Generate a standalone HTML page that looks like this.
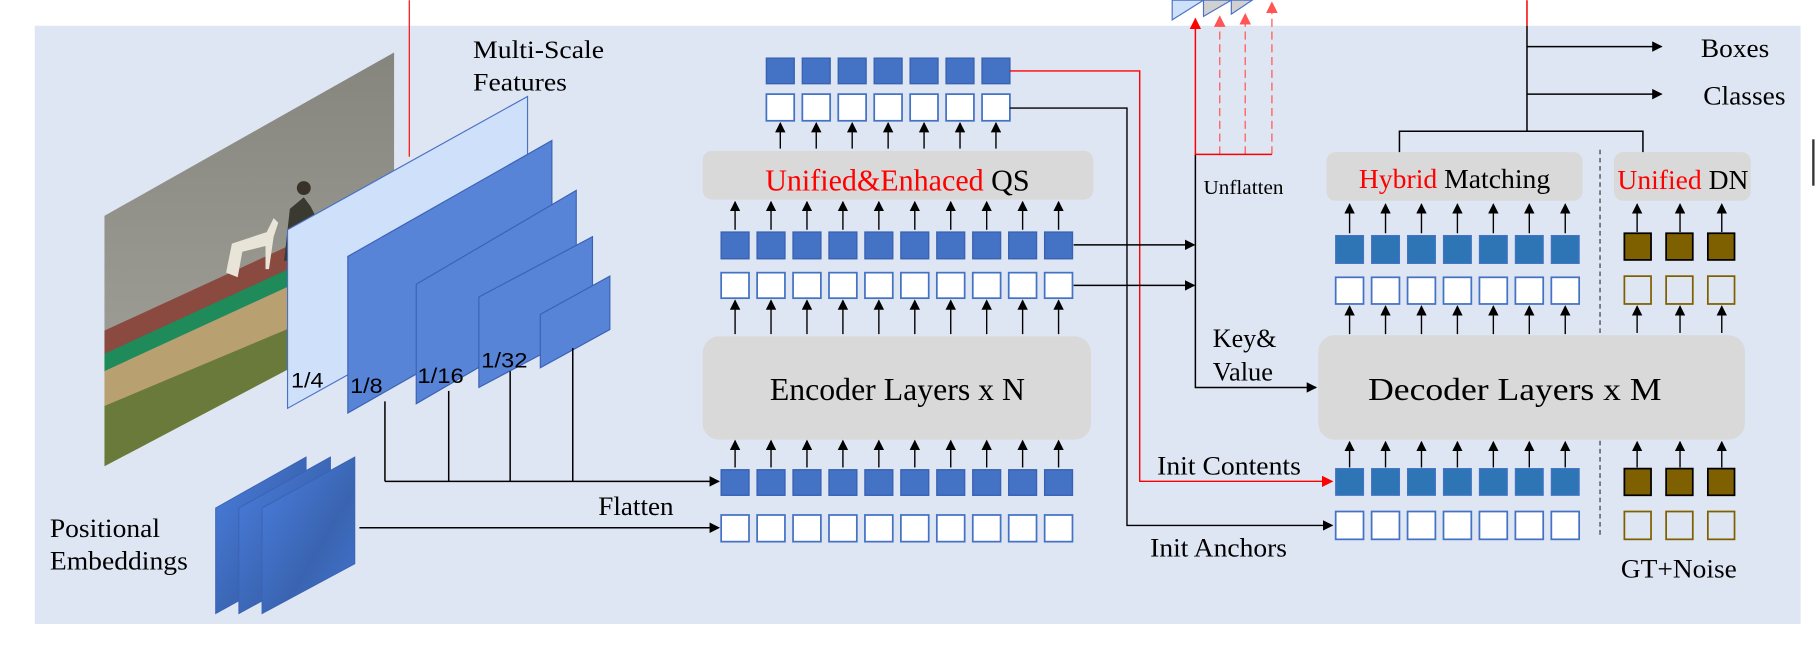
<!DOCTYPE html>
<html><head><meta charset="utf-8"><style>
html,body{margin:0;padding:0;background:#fff;width:1818px;height:652px;overflow:hidden}
svg{display:block}
text{font-family:"Liberation Serif",serif;fill:#000}
.s{font-family:"Liberation Sans",sans-serif}
</style></head><body>
<svg width="1818" height="652" viewBox="0 0 1568 562" xmlns="http://www.w3.org/2000/svg">
<defs>
<marker id="ab" markerWidth="9" markerHeight="9" refX="8" refY="4.5" orient="auto" markerUnits="userSpaceOnUse"><path d="M0,0 L9,4.5 L0,9z" fill="#000"/></marker>
<marker id="ar" markerWidth="10" markerHeight="10" refX="9" refY="5" orient="auto" markerUnits="userSpaceOnUse"><path d="M0,0 L10,5 L0,10z" fill="#f00"/></marker>
<marker id="arl" markerWidth="10" markerHeight="10" refX="9" refY="5" orient="auto" markerUnits="userSpaceOnUse"><path d="M0,0 L10,5 L0,10z" fill="#f55"/></marker>
<linearGradient id="pe" x1="0" y1="0" x2="1" y2="1"><stop offset="0" stop-color="#4a7ee0"/><stop offset="0.6" stop-color="#3a64b0"/><stop offset="1" stop-color="#4274d0"/></linearGradient>
<linearGradient id="ph" x1="0" y1="0" x2="0" y2="1"><stop offset="0" stop-color="#85857e"/><stop offset="0.5" stop-color="#96968e"/><stop offset="1" stop-color="#a4a49c"/></linearGradient>
<clipPath id="pc"><polygon points="90,186 340,45 340,270 90,402"/></clipPath>
</defs>
<rect x="30" y="22" width="1523" height="516" fill="#dfe6f3"/>
<line x1="353" y1="0" x2="353" y2="135" stroke="#f00" stroke-width="1"/>
<g clip-path="url(#pc)">
<rect x="80" y="40" width="270" height="370" fill="url(#ph)"/>
<polygon points="90,285 340,170 340,205 90,318" fill="#8a4a40"/>
<polygon points="90,305 340,190 340,205 90,320" fill="#1f8a5a"/>
<polygon points="90,320 340,205 340,300 90,420" fill="#b8a070"/>
<polygon points="90,350 340,245 340,300 90,420" fill="#6a7a3a"/>
<path d="M195,235 l5,-25 l30,-10 l6,-12 l4,4 l-4,12 l-4,28 l-3,0 l0,-20 l-20,5 l-4,22z" fill="#e8e4d8"/>
<path d="M245,225 l5,-45 l12,-10 l6,8 l10,20 l-5,20 z" fill="#3a3a30"/>
<circle cx="262" cy="162" r="6" fill="#3a3228"/>
</g>
<polygon points="248,198 455,83 455,237 248,352" fill="#cfe0fb" stroke="#4a72c4" stroke-width="1"/>
<polygon points="300,221 476,121 476,256 300,356" fill="#5884d8" stroke="#3a62b4" stroke-width="1"/>
<polygon points="359,245 497,164 497,268 359,348" fill="#5884d8" stroke="#3a62b4" stroke-width="1"/>
<polygon points="413,256 511,204 511,282 413,334" fill="#5884d8" stroke="#3a62b4" stroke-width="1"/>
<polygon points="466,271 526,238 526,284 466,317" fill="#5884d8" stroke="#3a62b4" stroke-width="1"/>
<text class="s" x="251" y="334" font-size="18" textLength="28" lengthAdjust="spacingAndGlyphs">1/4</text>
<text class="s" x="302" y="339" font-size="18" textLength="28" lengthAdjust="spacingAndGlyphs">1/8</text>
<text class="s" x="360" y="330" font-size="18" textLength="40" lengthAdjust="spacingAndGlyphs">1/16</text>
<text class="s" x="415" y="317" font-size="18" textLength="40" lengthAdjust="spacingAndGlyphs">1/32</text>
<text x="408" y="50" font-size="22" textLength="113" lengthAdjust="spacingAndGlyphs">Multi-Scale</text>
<text x="408" y="78" font-size="22" textLength="81" lengthAdjust="spacingAndGlyphs">Features</text>
<g stroke="#000" stroke-width="1.3" fill="none">
<line x1="332" y1="346" x2="332" y2="415"/><line x1="387" y1="337" x2="387" y2="415"/>
<line x1="440" y1="320" x2="440" y2="415"/><line x1="494" y1="300" x2="494" y2="415"/>
<line x1="332" y1="415" x2="620" y2="415" marker-end="url(#ab)"/>
<line x1="310" y1="455" x2="620" y2="455" marker-end="url(#ab)"/>
</g>
<text x="516" y="444" font-size="23" textLength="65" lengthAdjust="spacingAndGlyphs">Flatten</text>
<polygon points="186,438 264,394 264,486 186,529" fill="url(#pe)" stroke="#3a62b4" stroke-width="0.8"/>
<polygon points="206,438 285,394 285,486 206,529" fill="url(#pe)" stroke="#3a62b4" stroke-width="0.8"/>
<polygon points="226,438 306,394 306,486 226,529" fill="url(#pe)" stroke="#3a62b4" stroke-width="0.8"/>
<text x="43" y="463" font-size="23" textLength="95" lengthAdjust="spacingAndGlyphs">Positional</text>
<text x="43" y="491" font-size="23" textLength="119" lengthAdjust="spacingAndGlyphs">Embeddings</text>
<rect x="606" y="290" width="335" height="89" rx="14" fill="#d9d9d9"/>
<text x="664" y="345" font-size="27" textLength="220" lengthAdjust="spacingAndGlyphs">Encoder Layers x N</text>
<rect x="606" y="130" width="337" height="42" rx="8" fill="#d9d9d9"/>
<text x="660" y="164" font-size="26" textLength="228" lengthAdjust="spacingAndGlyphs"><tspan fill="#f00">Unified&amp;Enhaced</tspan> QS</text>
<g fill="#4472c4" stroke="#3a62b4" stroke-width="1.2">
<rect x="622" y="405" width="24" height="22"/><rect x="653" y="405" width="24" height="22"/><rect x="684" y="405" width="24" height="22"/><rect x="715" y="405" width="24" height="22"/><rect x="746" y="405" width="24" height="22"/><rect x="777" y="405" width="24" height="22"/><rect x="808" y="405" width="24" height="22"/><rect x="839" y="405" width="24" height="22"/><rect x="870" y="405" width="24" height="22"/><rect x="901" y="405" width="24" height="22"/>
<rect x="622" y="200" width="24" height="23"/><rect x="653" y="200" width="24" height="23"/><rect x="684" y="200" width="24" height="23"/><rect x="715" y="200" width="24" height="23"/><rect x="746" y="200" width="24" height="23"/><rect x="777" y="200" width="24" height="23"/><rect x="808" y="200" width="24" height="23"/><rect x="839" y="200" width="24" height="23"/><rect x="870" y="200" width="24" height="23"/><rect x="901" y="200" width="24" height="23"/>
<rect x="661" y="50" width="24" height="22"/><rect x="692" y="50" width="24" height="22"/><rect x="723" y="50" width="24" height="22"/><rect x="754" y="50" width="24" height="22"/><rect x="785" y="50" width="24" height="22"/><rect x="816" y="50" width="24" height="22"/><rect x="847" y="50" width="24" height="22"/>
</g>
<g fill="#fff" stroke="#4472c4" stroke-width="1.5">
<rect x="622" y="444" width="24" height="23"/><rect x="653" y="444" width="24" height="23"/><rect x="684" y="444" width="24" height="23"/><rect x="715" y="444" width="24" height="23"/><rect x="746" y="444" width="24" height="23"/><rect x="777" y="444" width="24" height="23"/><rect x="808" y="444" width="24" height="23"/><rect x="839" y="444" width="24" height="23"/><rect x="870" y="444" width="24" height="23"/><rect x="901" y="444" width="24" height="23"/>
<rect x="622" y="235" width="24" height="22"/><rect x="653" y="235" width="24" height="22"/><rect x="684" y="235" width="24" height="22"/><rect x="715" y="235" width="24" height="22"/><rect x="746" y="235" width="24" height="22"/><rect x="777" y="235" width="24" height="22"/><rect x="808" y="235" width="24" height="22"/><rect x="839" y="235" width="24" height="22"/><rect x="870" y="235" width="24" height="22"/><rect x="901" y="235" width="24" height="22"/>
<rect x="661" y="81" width="24" height="23"/><rect x="692" y="81" width="24" height="23"/><rect x="723" y="81" width="24" height="23"/><rect x="754" y="81" width="24" height="23"/><rect x="785" y="81" width="24" height="23"/><rect x="816" y="81" width="24" height="23"/><rect x="847" y="81" width="24" height="23"/>
</g>
<g stroke="#000" stroke-width="1.2" marker-end="url(#ab)">
<line x1="634" y1="403" x2="634" y2="380"/><line x1="665" y1="403" x2="665" y2="380"/><line x1="696" y1="403" x2="696" y2="380"/><line x1="727" y1="403" x2="727" y2="380"/><line x1="758" y1="403" x2="758" y2="380"/><line x1="789" y1="403" x2="789" y2="380"/><line x1="820" y1="403" x2="820" y2="380"/><line x1="851" y1="403" x2="851" y2="380"/><line x1="882" y1="403" x2="882" y2="380"/><line x1="913" y1="403" x2="913" y2="380"/>
<line x1="634" y1="288" x2="634" y2="259"/><line x1="665" y1="288" x2="665" y2="259"/><line x1="696" y1="288" x2="696" y2="259"/><line x1="727" y1="288" x2="727" y2="259"/><line x1="758" y1="288" x2="758" y2="259"/><line x1="789" y1="288" x2="789" y2="259"/><line x1="820" y1="288" x2="820" y2="259"/><line x1="851" y1="288" x2="851" y2="259"/><line x1="882" y1="288" x2="882" y2="259"/><line x1="913" y1="288" x2="913" y2="259"/>
<line x1="634" y1="198" x2="634" y2="174"/><line x1="665" y1="198" x2="665" y2="174"/><line x1="696" y1="198" x2="696" y2="174"/><line x1="727" y1="198" x2="727" y2="174"/><line x1="758" y1="198" x2="758" y2="174"/><line x1="789" y1="198" x2="789" y2="174"/><line x1="820" y1="198" x2="820" y2="174"/><line x1="851" y1="198" x2="851" y2="174"/><line x1="882" y1="198" x2="882" y2="174"/><line x1="913" y1="198" x2="913" y2="174"/>
<line x1="673" y1="128" x2="673" y2="106"/><line x1="704" y1="128" x2="704" y2="106"/><line x1="735" y1="128" x2="735" y2="106"/><line x1="766" y1="128" x2="766" y2="106"/><line x1="797" y1="128" x2="797" y2="106"/><line x1="828" y1="128" x2="828" y2="106"/><line x1="859" y1="128" x2="859" y2="106"/>
</g>
<polyline points="871,61 983,61 983,415 1149,415" fill="none" stroke="#f00" stroke-width="1.2" marker-end="url(#ar)"/>
<polyline points="871,93 972,93 972,453 1149,453" fill="none" stroke="#000" stroke-width="1.2" marker-end="url(#ab)"/>
<line x1="926" y1="211" x2="1030" y2="211" stroke="#000" stroke-width="1.3" marker-end="url(#ab)"/>
<line x1="926" y1="246" x2="1030" y2="246" stroke="#000" stroke-width="1.3" marker-end="url(#ab)"/>
<polyline points="1031,133 1031,334 1135,334" fill="none" stroke="#000" stroke-width="1.3" marker-end="url(#ab)"/>
<polygon points="1011,17 1038,0 1011,0" fill="#cfe0fb" stroke="#4a72c4"/>
<polygon points="1038,14 1062,0 1038,0" fill="#d0d0d0" stroke="#4a72c4"/>
<polygon points="1062,12 1080,0 1062,0" fill="#d0d0d0" stroke="#4a72c4"/>
<line x1="1031" y1="133" x2="1031" y2="16" stroke="#f00" stroke-width="1.3" marker-end="url(#ar)"/>
<g stroke="#f66" stroke-width="1.2" stroke-dasharray="7,4" marker-end="url(#arl)">
<line x1="1052" y1="133" x2="1052" y2="14"/><line x1="1074" y1="133" x2="1074" y2="12"/><line x1="1097" y1="133" x2="1097" y2="2"/>
</g>
<line x1="1031" y1="133" x2="1097" y2="133" stroke="#f00" stroke-width="1.3"/>
<text x="1038" y="167" font-size="17" textLength="69" lengthAdjust="spacingAndGlyphs">Unflatten</text>
<text x="1046" y="299" font-size="23" textLength="55" lengthAdjust="spacingAndGlyphs">Key&amp;</text>
<text x="1046" y="328" font-size="23" textLength="52" lengthAdjust="spacingAndGlyphs">Value</text>
<text x="998" y="409" font-size="23" textLength="124" lengthAdjust="spacingAndGlyphs">Init Contents</text>
<text x="992" y="480" font-size="23" textLength="118" lengthAdjust="spacingAndGlyphs">Init Anchors</text>
<rect x="1137" y="289" width="368" height="90" rx="14" fill="#d9d9d9"/>
<text x="1180" y="345" font-size="27" textLength="253" lengthAdjust="spacingAndGlyphs">Decoder Layers x M</text>
<rect x="1144" y="131" width="221" height="42" rx="8" fill="#d9d9d9"/>
<text x="1172" y="162" font-size="24" textLength="165" lengthAdjust="spacingAndGlyphs"><tspan fill="#f00">Hybrid</tspan> Matching</text>
<rect x="1392" y="131" width="118" height="42" rx="8" fill="#d9d9d9"/>
<text x="1395" y="163" font-size="24" textLength="113" lengthAdjust="spacingAndGlyphs"><tspan fill="#f00">Unified</tspan> DN</text>
<g fill="#2e75b6" stroke="#4472c4" stroke-width="1">
<rect x="1152" y="404" width="24" height="23"/><rect x="1183" y="404" width="24" height="23"/><rect x="1214" y="404" width="24" height="23"/><rect x="1245" y="404" width="24" height="23"/><rect x="1276" y="404" width="24" height="23"/><rect x="1307" y="404" width="24" height="23"/><rect x="1338" y="404" width="24" height="23"/>
<rect x="1152" y="203" width="24" height="24"/><rect x="1183" y="203" width="24" height="24"/><rect x="1214" y="203" width="24" height="24"/><rect x="1245" y="203" width="24" height="24"/><rect x="1276" y="203" width="24" height="24"/><rect x="1307" y="203" width="24" height="24"/><rect x="1338" y="203" width="24" height="24"/>
</g>
<g fill="#fff" stroke="#4472c4" stroke-width="1.5">
<rect x="1152" y="441" width="24" height="24"/><rect x="1183" y="441" width="24" height="24"/><rect x="1214" y="441" width="24" height="24"/><rect x="1245" y="441" width="24" height="24"/><rect x="1276" y="441" width="24" height="24"/><rect x="1307" y="441" width="24" height="24"/><rect x="1338" y="441" width="24" height="24"/>
<rect x="1152" y="239" width="24" height="23"/><rect x="1183" y="239" width="24" height="23"/><rect x="1214" y="239" width="24" height="23"/><rect x="1245" y="239" width="24" height="23"/><rect x="1276" y="239" width="24" height="23"/><rect x="1307" y="239" width="24" height="23"/><rect x="1338" y="239" width="24" height="23"/>
</g>
<g fill="#7f6000" stroke="#000" stroke-width="1.5">
<rect x="1401" y="201" width="23" height="23"/><rect x="1437" y="201" width="23" height="23"/><rect x="1473" y="201" width="23" height="23"/>
<rect x="1401" y="404" width="23" height="23"/><rect x="1437" y="404" width="23" height="23"/><rect x="1473" y="404" width="23" height="23"/>
</g>
<g fill="none" stroke="#7f6000" stroke-width="1.5">
<rect x="1401" y="238" width="23" height="24"/><rect x="1437" y="238" width="23" height="24"/><rect x="1473" y="238" width="23" height="24"/>
<rect x="1401" y="441" width="23" height="24"/><rect x="1437" y="441" width="23" height="24"/><rect x="1473" y="441" width="23" height="24"/>
</g>
<g stroke="#000" stroke-width="1.2" marker-end="url(#ab)">
<line x1="1164" y1="288" x2="1164" y2="264"/><line x1="1195" y1="288" x2="1195" y2="264"/><line x1="1226" y1="288" x2="1226" y2="264"/><line x1="1257" y1="288" x2="1257" y2="264"/><line x1="1288" y1="288" x2="1288" y2="264"/><line x1="1319" y1="288" x2="1319" y2="264"/><line x1="1350" y1="288" x2="1350" y2="264"/>
<line x1="1164" y1="201" x2="1164" y2="176"/><line x1="1195" y1="201" x2="1195" y2="176"/><line x1="1226" y1="201" x2="1226" y2="176"/><line x1="1257" y1="201" x2="1257" y2="176"/><line x1="1288" y1="201" x2="1288" y2="176"/><line x1="1319" y1="201" x2="1319" y2="176"/><line x1="1350" y1="201" x2="1350" y2="176"/>
<line x1="1164" y1="403" x2="1164" y2="381"/><line x1="1195" y1="403" x2="1195" y2="381"/><line x1="1226" y1="403" x2="1226" y2="381"/><line x1="1257" y1="403" x2="1257" y2="381"/><line x1="1288" y1="403" x2="1288" y2="381"/><line x1="1319" y1="403" x2="1319" y2="381"/><line x1="1350" y1="403" x2="1350" y2="381"/>
<line x1="1412" y1="287" x2="1412" y2="264"/><line x1="1449" y1="287" x2="1449" y2="264"/><line x1="1485" y1="287" x2="1485" y2="264"/>
<line x1="1412" y1="200" x2="1412" y2="176"/><line x1="1449" y1="200" x2="1449" y2="176"/><line x1="1485" y1="200" x2="1485" y2="176"/>
<line x1="1412" y1="403" x2="1412" y2="381"/><line x1="1449" y1="403" x2="1449" y2="381"/><line x1="1485" y1="403" x2="1485" y2="381"/>
</g>
<g stroke="#333" stroke-width="1" stroke-dasharray="4,3">
<line x1="1380" y1="129" x2="1380" y2="287"/><line x1="1380" y1="380" x2="1380" y2="464"/>
</g>
<text x="1398" y="498" font-size="23" textLength="100" lengthAdjust="spacingAndGlyphs">GT+Noise</text>
<polyline points="1207,131 1207,113 1417,113 1417,131" fill="none" stroke="#000" stroke-width="1.3"/>
<line x1="1317" y1="113" x2="1317" y2="22" stroke="#000" stroke-width="1.3"/>
<line x1="1317" y1="22" x2="1317" y2="0" stroke="#f00" stroke-width="1.3"/>
<line x1="1317" y1="40" x2="1433" y2="40" stroke="#000" stroke-width="1.3" marker-end="url(#ab)"/>
<line x1="1317" y1="81" x2="1433" y2="81" stroke="#000" stroke-width="1.3" marker-end="url(#ab)"/>
<text x="1467" y="49" font-size="23" textLength="59" lengthAdjust="spacingAndGlyphs">Boxes</text>
<text x="1469" y="90" font-size="23" textLength="71" lengthAdjust="spacingAndGlyphs">Classes</text>
<line x1="1564" y1="120" x2="1564" y2="160" stroke="#333" stroke-width="2"/>
</svg>
</body></html>
